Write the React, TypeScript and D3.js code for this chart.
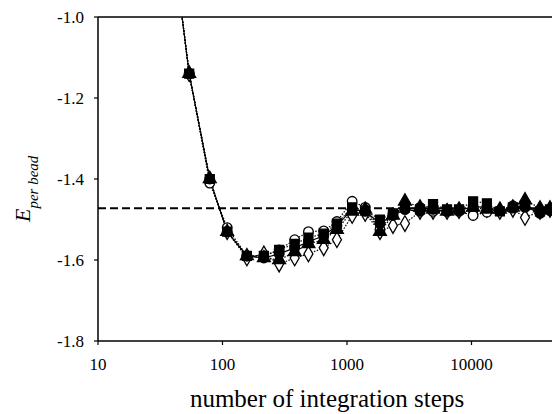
import React from "react";
import * as d3 from "d3";

const steps = [40, 54, 79, 109, 157, 215, 285, 380, 490, 650, 830, 1100, 1400, 1840, 2340, 2920, 3860, 4910, 6360, 7940, 10300, 13300, 16900, 21500, 26900, 35500, 42700];

const filledCircle = [-0.82, -1.14, -1.40, -1.53, -1.59, -1.595, -1.585, -1.57, -1.555, -1.54, -1.515, -1.475, -1.48, -1.51, -1.49, -1.475, -1.48, -1.475, -1.48, -1.478, -1.468, -1.47, -1.478, -1.472, -1.468, -1.485, -1.478];
const filledSquare = [-0.82, -1.14, -1.40, -1.53, -1.59, -1.59, -1.575, -1.56, -1.545, -1.535, -1.51, -1.47, -1.478, -1.50, -1.485, -1.47, -1.475, -1.462, -1.475, -1.475, -1.455, -1.46, -1.48, -1.47, -1.465, -1.48, -1.475];
const filledTriangle = [-0.82, -1.14, -1.40, -1.53, -1.59, -1.595, -1.6, -1.58, -1.56, -1.55, -1.525, -1.48, -1.475, -1.53, -1.49, -1.455, -1.47, -1.475, -1.48, -1.475, -1.47, -1.475, -1.475, -1.47, -1.452, -1.472, -1.472];
const openCircle = [-0.82, -1.14, -1.41, -1.52, -1.59, -1.59, -1.575, -1.55, -1.53, -1.528, -1.505, -1.455, -1.47, -1.525, -1.485, -1.475, -1.47, -1.48, -1.48, -1.48, -1.49, -1.482, -1.478, -1.466, -1.47, -1.48, -1.475];
const openDiamond = [-0.82, -1.14, -1.40, -1.53, -1.595, -1.585, -1.61, -1.595, -1.585, -1.57, -1.55, -1.49, -1.485, -1.53, -1.515, -1.51, -1.48, -1.48, -1.48, -1.478, -1.48, -1.475, -1.48, -1.475, -1.495, -1.48, -1.475];

const referenceLevel = -1.472;
const xTicks = [10, 100, 1000, 10000];
const yTicks = [-1.8, -1.6, -1.4, -1.2, -1.0];

const W = 552, H = 414;
const left = 98, top = 17, bottom = 341;

const x = d3.scaleLog().domain([10, 10000]).range([left, 471.5]);
const y = d3.scaleLinear().domain([-1.8, -1.0]).range([bottom, top]);

type Series = { name: string; values: number[]; shape: string; fill: boolean; solid: boolean };
const series: Series[] = [
  { name: "openDiamond", values: openDiamond, shape: "diamond", fill: false, solid: false },
  { name: "openCircle", values: openCircle, shape: "circle", fill: false, solid: false },
  { name: "filledTriangle", values: filledTriangle, shape: "triangle", fill: true, solid: false },
  { name: "filledSquare", values: filledSquare, shape: "square", fill: true, solid: false },
  { name: "filledCircle", values: filledCircle, shape: "circle", fill: true, solid: true },
];

const symbolType: Record<string, d3.SymbolType> = {
  circle: d3.symbolCircle,
  square: d3.symbolSquare,
  triangle: d3.symbolTriangle,
  diamond: d3.symbolDiamond,
};
const symbolSize: Record<string, number> = {
  circle: 72,
  square: 80,
  triangle: 72,
  diamond: 70,
};

const font = "'Liberation Serif', 'Times New Roman', Times, serif";

export default function App() {
  const line = d3
    .line<number>()
    .x((_, i) => x(steps[i]))
    .y((v) => y(v));

  return (
    <svg width={W} height={H} style={{ position: "absolute", left: 0, top: 0, background: "#fff", fontFamily: font }}>
      <defs>
        <clipPath id="plot">
          <rect x={left} y={top} width={W - left + 10} height={bottom - top} />
        </clipPath>
      </defs>
      <rect x={0} y={0} width={W} height={H} fill="#fff" />

      {/* dashed reference */}
      <line x1={left} x2={W} y1={y(referenceLevel)} y2={y(referenceLevel)} stroke="#000" strokeWidth={2} strokeDasharray="8,4" />

      <g clipPath="url(#plot)">
        {series.map((s) => (
          <path
            key={s.name + "-line"}
            d={line(s.values) || ""}
            fill="none"
            stroke="#000"
            strokeWidth={1.2}
            strokeDasharray={s.solid ? undefined : "1.5,1.5"}
          />
        ))}
        {series.map((s) =>
          s.values.map((v, i) => {
            const sym = d3.symbol().type(symbolType[s.shape]).size(symbolSize[s.shape])();
            return (
              <path
                key={s.name + i}
                d={sym || ""}
                transform={`translate(${x(steps[i])},${y(v)})`}
                fill={s.fill ? "#000" : "#fff"}
                stroke="#000"
                strokeWidth={1.3}
              />
            );
          })
        )}
      </g>

      {/* frame */}
      <line x1={left} x2={W + 5} y1={top} y2={top} stroke="#000" strokeWidth={1.5} />
      <line x1={left} x2={W + 5} y1={bottom} y2={bottom} stroke="#000" strokeWidth={1.5} />
      <line x1={left} x2={left} y1={top} y2={bottom} stroke="#000" strokeWidth={1.5} />

      {yTicks.map((t) => (
        <g key={"y" + t}>
          <line x1={left - 4} x2={left} y1={y(t)} y2={y(t)} stroke="#000" strokeWidth={1.2} />
          <text x={left - 14} y={y(t)} dy="0.35em" textAnchor="end" fontSize={17} fontFamily={font}>
            {t.toFixed(1)}
          </text>
        </g>
      ))}
      {xTicks.map((t) => (
        <g key={"x" + t}>
          <line x1={x(t)} x2={x(t)} y1={bottom} y2={bottom + 4} stroke="#000" strokeWidth={1.2} />
          <text x={x(t)} y={370} textAnchor="middle" fontSize={17} fontFamily={font}>
            {t}
          </text>
        </g>
      ))}

      <text x={327} y={407} textAnchor="middle" fontSize={25} fontFamily={font}>
        number of integration steps
      </text>

      <text transform="translate(30,222) rotate(-90)" textAnchor="start" fontStyle="italic" fontFamily={font}>
        <tspan fontSize={22}>E</tspan>
        <tspan fontSize={15} dy={8}>per bead</tspan>
      </text>
    </svg>
  );
}
